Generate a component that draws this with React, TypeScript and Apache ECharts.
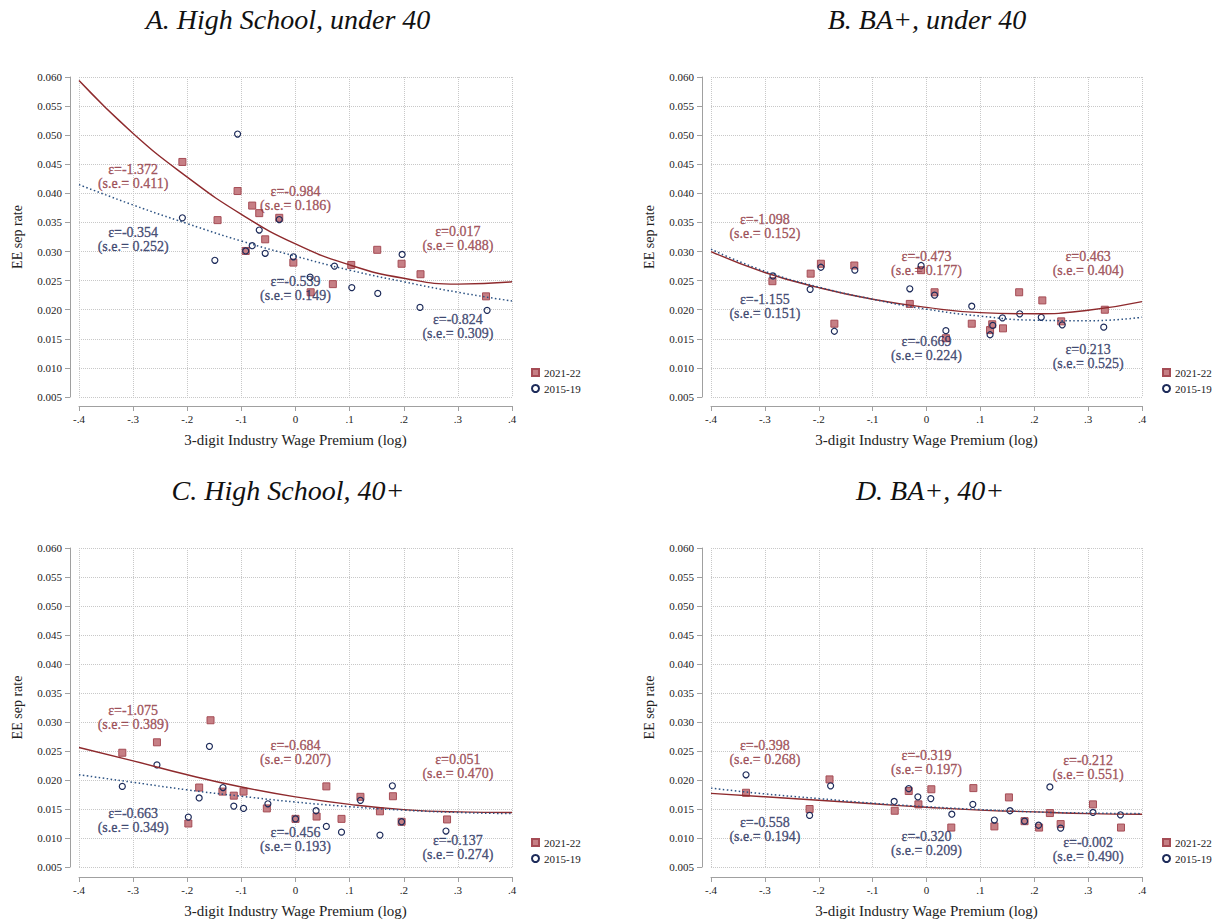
import React, { useEffect, useRef } from 'react';
import * as echarts from 'echarts';

// ---------- data ----------
const xTickLabels = ['-.4', '-.3', '-.2', '-.1', '0', '.1', '.2', '.3', '.4'];
const fitX = [-0.4, -0.3, -0.2, -0.1, 0, 0.1, 0.2, 0.3, 0.4];
const panelTitles = ['A. High School, under 40', 'B. BA+, under 40', 'C. High School, 40+', 'D. BA+, 40+'];
const seriesNames = ['2021-22', '2015-19'];
const xAxisTitle = '3-digit Industry Wage Premium (log)';
const yAxisTitle = 'EE sep rate';

// Panel A
const ptsA21 = [[-0.209, 0.0454], [-0.107, 0.0404], [-0.080, 0.0379], [-0.067, 0.0366], [-0.030, 0.0358], [-0.144, 0.0354], [-0.056, 0.0321], [-0.092, 0.0301], [-0.004, 0.0281], [0.103, 0.0277], [0.151, 0.0303], [0.196, 0.0279], [0.231, 0.0261], [0.069, 0.0244], [0.028, 0.0230], [0.352, 0.0223]];
const ptsA15 = [[-0.107, 0.0502], [-0.209, 0.0358], [-0.030, 0.0355], [-0.067, 0.0337], [-0.080, 0.0310], [-0.092, 0.0301], [-0.056, 0.0297], [-0.149, 0.0285], [-0.004, 0.0291], [0.072, 0.0275], [0.197, 0.0295], [0.027, 0.0256], [0.104, 0.0238], [0.152, 0.0228], [0.230, 0.0204], [0.354, 0.0199]];
const fitA21 = [0.0594, 0.0503, 0.0428, 0.0364, 0.0313, 0.0277, 0.0254, 0.0244, 0.0248];
const fitA15 = [0.0415, 0.0380, 0.0348, 0.0318, 0.0292, 0.0268, 0.0248, 0.0230, 0.0215];
const epsA21 = ['-1.372', '-0.984', '0.017'];
const seA21 = ['0.411', '0.186', '0.488'];
const epsA15 = ['-0.354', '-0.539', '-0.824'];
const seA15 = ['0.252', '0.149', '0.309'];

// Panel B
const ptsB21 = [[-0.286, 0.0249], [-0.215, 0.0262], [-0.196, 0.0279], [-0.134, 0.0276], [-0.171, 0.0176], [-0.010, 0.0268], [-0.031, 0.0210], [0.015, 0.0230], [0.036, 0.0151], [0.084, 0.0176], [0.118, 0.0165], [0.122, 0.0175], [0.142, 0.0168], [0.172, 0.0230], [0.215, 0.0216], [0.250, 0.0180], [0.331, 0.0200]];
const ptsB15 = [[-0.285, 0.0258], [-0.216, 0.0235], [-0.196, 0.0273], [-0.133, 0.0268], [-0.171, 0.0163], [-0.010, 0.0276], [-0.031, 0.0236], [0.015, 0.0225], [0.036, 0.0164], [0.084, 0.0206], [0.118, 0.0157], [0.123, 0.0173], [0.141, 0.0186], [0.173, 0.0193], [0.213, 0.0187], [0.252, 0.0174], [0.329, 0.0170]];
const fitB21 = [0.0300, 0.0264, 0.0238, 0.0218, 0.0204, 0.0195, 0.0193, 0.0199, 0.0214];
const fitB15 = [0.0304, 0.0266, 0.0239, 0.0218, 0.0201, 0.0189, 0.0182, 0.0181, 0.0187];
const epsB21 = ['-1.098', '-0.473', '0.463'];
const seB21 = ['0.152', '0.177', '0.404'];
const epsB15 = ['-1.155', '-0.669', '0.213'];
const seB15 = ['0.151', '0.224', '0.525'];

// Panel C
const ptsC21 = [[-0.320, 0.0247], [-0.256, 0.0265], [-0.157, 0.0303], [-0.198, 0.0125], [-0.178, 0.0187], [-0.135, 0.0180], [-0.114, 0.0173], [-0.096, 0.0180], [-0.053, 0.0151], [0.000, 0.0133], [0.039, 0.0137], [0.057, 0.0189], [0.085, 0.0133], [0.120, 0.0171], [0.156, 0.0146], [0.180, 0.0172], [0.196, 0.0128], [0.280, 0.0132]];
const ptsC15 = [[-0.320, 0.0189], [-0.256, 0.0226], [-0.159, 0.0258], [-0.198, 0.0136], [-0.178, 0.0169], [-0.134, 0.0187], [-0.114, 0.0155], [-0.096, 0.0151], [-0.051, 0.0159], [0.000, 0.0133], [0.038, 0.0147], [0.057, 0.0120], [0.085, 0.0110], [0.120, 0.0165], [0.156, 0.0105], [0.179, 0.0190], [0.196, 0.0128], [0.278, 0.0112]];
const fitC21 = [0.0256, 0.0233, 0.0209, 0.0188, 0.0171, 0.0158, 0.0149, 0.0145, 0.0144];
const fitC15 = [0.0209, 0.0196, 0.0183, 0.0172, 0.0162, 0.0154, 0.0148, 0.0144, 0.0142];
const epsC21 = ['-1.075', '-0.684', '0.051'];
const seC21 = ['0.389', '0.207', '0.470'];
const epsC15 = ['-0.663', '-0.456', '-0.137'];
const seC15 = ['0.349', '0.193', '0.274'];

// Panel D
const ptsD21 = [[-0.335, 0.0178], [-0.217, 0.0150], [-0.180, 0.0201], [-0.059, 0.0147], [-0.033, 0.0181], [-0.015, 0.0158], [0.009, 0.0184], [0.046, 0.0118], [0.087, 0.0186], [0.126, 0.0120], [0.153, 0.0170], [0.182, 0.0129], [0.209, 0.0118], [0.229, 0.0143], [0.249, 0.0124], [0.309, 0.0158], [0.361, 0.0118]];
const ptsD15 = [[-0.335, 0.0209], [-0.217, 0.0139], [-0.178, 0.0190], [-0.060, 0.0163], [-0.033, 0.0185], [-0.016, 0.0171], [0.008, 0.0168], [0.047, 0.0141], [0.086, 0.0158], [0.126, 0.0131], [0.155, 0.0147], [0.182, 0.0129], [0.208, 0.0122], [0.229, 0.0188], [0.249, 0.0117], [0.309, 0.0144], [0.360, 0.0140]];
const fitD21 = [0.0177, 0.0171, 0.0165, 0.0159, 0.0153, 0.0148, 0.0145, 0.0142, 0.0141];
const fitD15 = [0.0186, 0.0176, 0.0168, 0.0160, 0.0154, 0.0149, 0.0145, 0.0143, 0.0142];
const epsD21 = ['-0.398', '-0.319', '-0.212'];
const seD21 = ['0.268', '0.197', '0.551'];
const epsD15 = ['-0.558', '-0.320', '-0.002'];
const seD15 = ['0.194', '0.209', '0.490'];

// ---------- layout ----------
const annotX = [-0.3, 0, 0.3];
const annotY21 = [[0.0429, 0.0391, 0.0322], [0.0343, 0.0279, 0.0279], [0.0308, 0.0248, 0.0224], [0.0247, 0.0230, 0.0221]];
const annotY15 = [[0.0320, 0.0236, 0.0171], [0.0206, 0.0134, 0.0120], [0.0131, 0.0098, 0.0083], [0.0114, 0.0091, 0.0080]];
const grids = [
  { left: 79, top: 77, width: 433, height: 320 },
  { left: 711, top: 77, width: 431, height: 320 },
  { left: 79, top: 548, width: 433, height: 319 },
  { left: 711, top: 548, width: 431, height: 319 },
];
const titlePos = [[288, 19], [927, 19], [288, 490], [930, 490]];
const legendPos = [[531, 367], [1162, 367], [531, 837], [1162, 837]];

const RED_LINE = '#8e2a2d';
const BLUE_LINE = '#2c5283';
const RED_TEXT = '#8f3540';
const BLUE_TEXT = '#1f2c5a';
const SQ_FILL = '#c67f85';
const SQ_BORDER = '#a54c55';
const CIRC = '#1d2b5a';
const FONT = 'Liberation Serif, Times New Roman, serif';

const panels = [
  { p21: ptsA21, p15: ptsA15, f21: fitA21, f15: fitA15, e21: epsA21, s21: seA21, e15: epsA15, s15: seA15 },
  { p21: ptsB21, p15: ptsB15, f21: fitB21, f15: fitB15, e21: epsB21, s21: seB21, e15: epsB15, s15: seB15 },
  { p21: ptsC21, p15: ptsC15, f21: fitC21, f15: fitC15, e21: epsC21, s21: seC21, e15: epsC15, s15: seC15 },
  { p21: ptsD21, p15: ptsD15, f21: fitD21, f15: fitD15, e21: epsD21, s21: seD21, e15: epsD15, s15: seD15 },
];

function buildOption() {
  const grid: any[] = [];
  const xAxis: any[] = [];
  const yAxis: any[] = [];
  const series: any[] = [];
  const legend: any[] = [];
  const graphic: any[] = [];

  panels.forEach((pn, i) => {
    grid.push({ ...grids[i], containLabel: false });
    xAxis.push({
      gridIndex: i, type: 'value', min: -0.4, max: 0.4, interval: 0.1, offset: i >= 2 ? 10 : 9,
      axisLine: { show: true, onZero: false, lineStyle: { color: '#a0a0a0', width: 1 } },
      axisTick: { show: true, length: 5, lineStyle: { color: '#a0a0a0' } },
      axisLabel: {
        fontSize: 11, fontFamily: FONT, color: '#222', margin: 7,
        formatter: (v: number) => xTickLabels[Math.round((v + 0.4) * 10)] ?? '',
      },
      splitLine: { show: true, lineStyle: { type: 'dotted', color: '#c8c8c8', width: 1 } },
      name: xAxisTitle, nameLocation: 'middle', nameGap: 26,
      nameTextStyle: { fontSize: 15, fontFamily: FONT, color: '#222' },
    });
    yAxis.push({
      gridIndex: i, type: 'value', min: 0.005, max: 0.06, interval: 0.005, offset: 9,
      axisLine: { show: true, onZero: false, lineStyle: { color: '#a0a0a0', width: 1 } },
      axisTick: { show: true, length: 5, lineStyle: { color: '#a0a0a0' } },
      axisLabel: {
        fontSize: 11, fontFamily: FONT, color: '#222', margin: 8,
        formatter: (v: number) => v.toFixed(3),
      },
      splitLine: { show: true, lineStyle: { type: 'dotted', color: '#c8c8c8', width: 1 } },
      name: yAxisTitle, nameLocation: 'middle', nameGap: 46,
      nameTextStyle: { fontSize: 14, fontFamily: FONT, color: '#222' },
    });

    series.push({
      name: seriesNames[0], type: 'scatter', xAxisIndex: i, yAxisIndex: i,
      symbol: 'rect', symbolSize: 7,
      itemStyle: { color: SQ_FILL, borderColor: SQ_BORDER, borderWidth: 1, opacity: 1 },
      data: pn.p21, z: 3,
    });
    series.push({
      name: seriesNames[1], type: 'scatter', xAxisIndex: i, yAxisIndex: i,
      symbol: 'circle', symbolSize: 6,
      itemStyle: { color: 'rgba(255,255,255,0)', borderColor: CIRC, borderWidth: 1.2, opacity: 1 },
      data: pn.p15, z: 4,
    });
    series.push({
      name: 'fit21_' + i, type: 'line', xAxisIndex: i, yAxisIndex: i, smooth: true, symbol: 'none',
      lineStyle: { color: RED_LINE, width: 1.4, type: 'solid' },
      data: fitX.map((x, k) => [x, pn.f21[k]]), z: 5,
    });
    series.push({
      name: 'fit15_' + i, type: 'line', xAxisIndex: i, yAxisIndex: i, smooth: true, symbol: 'none',
      lineStyle: { color: BLUE_LINE, width: 1.5, type: [1.5, 2.5] },
      data: fitX.map((x, k) => [x, pn.f15[k]]), z: 5,
    });
    const mkAnnot = (eps: string[], se: string[], ys: number[], color: string, nm: string) => ({
      name: nm, type: 'scatter', xAxisIndex: i, yAxisIndex: i, symbol: 'circle', symbolSize: 1,
      itemStyle: { color: 'rgba(0,0,0,0)' }, silent: true, z: 6,
      label: {
        show: true, position: 'inside', formatter: '{b}', color, fontSize: 14, lineHeight: 14,
        fontFamily: FONT, align: 'center', verticalAlign: 'middle',
        textBorderColor: color, textBorderWidth: 0.35,
      },
      data: eps.map((e, k) => ({ value: [annotX[k], ys[k]], name: 'ε=' + e + '\n(s.e.= ' + se[k] + ')' })),
    });
    series.push(mkAnnot(pn.e21, pn.s21, annotY21[i], RED_TEXT, 'annot21_' + i));
    series.push(mkAnnot(pn.e15, pn.s15, annotY15[i], BLUE_TEXT, 'annot15_' + i));

    legend.push({
      left: legendPos[i][0], top: legendPos[i][1], orient: 'vertical', itemWidth: 7, itemHeight: 7,
      itemGap: 5, padding: 0, selectedMode: false, data: seriesNames,
      textStyle: { fontSize: 11, fontFamily: FONT, color: '#222' },
    });

    graphic.push({
      type: 'text', x: titlePos[i][0], y: titlePos[i][1],
      style: {
        text: panelTitles[i], fill: '#111', textAlign: 'center', textVerticalAlign: 'middle',
        font: 'italic 28px "Liberation Serif", "Times New Roman", serif',
      },
    });
  });

  return { animation: false, backgroundColor: '#fff', grid, xAxis, yAxis, series, legend, graphic };
}

export default function App() {
  const ref = useRef<HTMLDivElement>(null);
  useEffect(() => {
    if (!ref.current) return;
    const chart = echarts.init(ref.current, undefined, { renderer: 'svg' });
    chart.setOption(buildOption() as any);
    return () => chart.dispose();
  }, []);
  return (
    <div
      ref={ref}
      style={{ position: 'fixed', left: 0, top: 0, width: 1225, height: 922, background: '#fff' }}
    />
  );
}
